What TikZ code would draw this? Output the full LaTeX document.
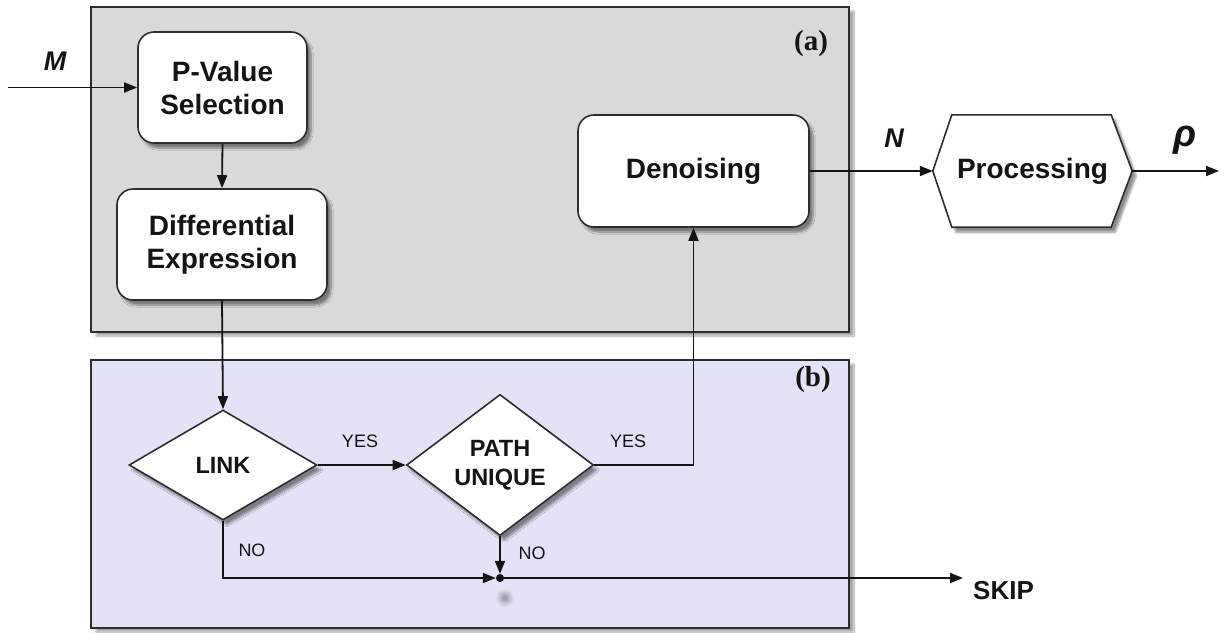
\documentclass[tikz,border=0pt]{standalone}
\usepackage{fontspec}
\setmainfont{Liberation Sans}
\newfontfamily\panelfont{Liberation Serif}
\usetikzlibrary{arrows.meta,shapes.geometric,shadows.blur,calc}

\definecolor{panelgray}{RGB}{217,217,217}
\definecolor{panelblue}{RGB}{226,227,246}
\definecolor{edge}{RGB}{45,45,45}
\definecolor{ink}{RGB}{20,20,20}

\tikzset{
  panel/.style={draw=edge, line width=1.9pt, inner sep=0pt,
    blur shadow={shadow xshift=5pt, shadow yshift=-4pt, shadow blur steps=10, shadow opacity=35}},
  procbox/.style={draw=edge, fill=white, line width=1.6pt, rounded corners=16pt,
    inner sep=0pt, align=center, text=ink,
    font=\fontsize{28}{33}\selectfont\bfseries,
    blur shadow={shadow xshift=4pt, shadow yshift=-5pt, shadow blur steps=8, shadow opacity=45}},
  decision/.style={diamond, draw=edge, fill=white, line width=1.6pt, inner sep=0pt,
    align=center, text=ink, font=\fontsize{23.5}{29}\selectfont\bfseries,
    blur shadow={shadow xshift=4pt, shadow yshift=-5pt, shadow blur steps=8, shadow opacity=45}},
  arr/.style={draw=ink, line width=1.8pt, -{Triangle[length=13pt,width=10pt]}},
  answer/.style={font=\fontsize{18}{18}\selectfont, text=ink, inner sep=0pt},
  varlabel/.style={font=\fontsize{27}{27}\selectfont\bfseries\itshape, text=ink, inner sep=0pt},
  panellabel/.style={font=\panelfont\fontsize{29}{29}\selectfont\bfseries, text=ink, inner sep=0pt},
}

\begin{document}
\begin{tikzpicture}[x=1pt,y=-1pt]
\useasboundingbox (0,0) rectangle (1225,632);

% background panels
\node[panel, fill=panelgray, minimum width=758pt, minimum height=325pt] (panelA) at (470,169.5) {};
\node[panel, fill=panelblue, minimum width=758pt, minimum height=268pt] (panelB) at (470,494) {};
\node[panellabel] (labA) at (811,44) {(a)};
\node[panellabel] (labB) at (813,380) {(b)};

% process boxes
\node[procbox, minimum width=169pt, minimum height=111pt] (pv) at (222.5,87.5) {P-Value\\Selection};
\node[procbox, minimum width=210pt, minimum height=111pt] (de) at (222,244.5) {Differential\\Expression};
\node[procbox, minimum width=231pt, minimum height=112pt] (dn) at (693.5,171) {Denoising};

% hexagonal processing block
\node[minimum width=199pt, minimum height=112pt, inner sep=0pt] (proc) at (1032.5,171) {};
\draw[draw=edge, fill=white, line width=1.6pt,
      blur shadow={shadow xshift=4pt, shadow yshift=-5pt, shadow blur steps=8, shadow opacity=45}]
  (proc.west) -- ($(proc.north west)+(19,0)$) -- ($(proc.north east)+(-21,0)$)
  -- (proc.east) -- ($(proc.south east)+(-21,0)$) -- ($(proc.south west)+(19,0)$) -- cycle;
\node[font=\fontsize{28}{33}\selectfont\bfseries, text=ink] at (proc.center) {Processing};

% decisions
\node[decision, minimum width=188pt, minimum height=110pt] (link) at (223,465) {LINK};
\node[decision, minimum width=187pt, minimum height=134pt] (path) at (500,465) {PATH\\UNIQUE};

% soft smudge below the junction
\foreach \r/\o in {9/0.05,7/0.07,5/0.09,3/0.1}
  \fill[black, opacity=\o] (505,598) circle (\r);

% junction
\node[circle, fill=ink, inner sep=0pt, minimum size=8pt] (dot) at (500,578) {};

% free ends
\coordinate (mstart) at (8,87.5);
\coordinate (rhoend) at (1219,171);
\coordinate (skipend) at (963,578);

% variable labels
\node[varlabel] (mlab) at (55,61) {M};
\node[varlabel] (nlab) at (894,138) {N};
\node[font=\fontsize{38}{38}\selectfont\bfseries\itshape, text=ink, inner sep=0pt] (rholab) at (1185,140) {ρ};
\node[font=\fontsize{26}{26}\selectfont\bfseries, text=ink, anchor=west, inner sep=0pt] (skip) at (973,591) {SKIP};

% connectors
\draw[arr] (mstart) -- (pv.west);
\draw[arr] (pv.south) -- (de.north);
\draw[arr] (de.south) -- (link.north);
\draw[arr] (link.east) -- (path.west);
\draw[arr] (path.east) -| (dn.south);
\draw[arr] (link.south) |- (dot.west);
\draw[arr] (path.south) -- (dot.north);
\draw[arr] (dot.center) -- (skipend);
\draw[arr] (dn.east) -- (proc.west);
\draw[arr] (proc.east) -- (rhoend);

% branch labels
\node[answer] (yes1) at (360,441) {YES};
\node[answer] (yes2) at (628,441) {YES};
\node[answer] (no1) at (252,550) {NO};
\node[answer] (no2) at (532,553) {NO};
\end{tikzpicture}
\end{document}
